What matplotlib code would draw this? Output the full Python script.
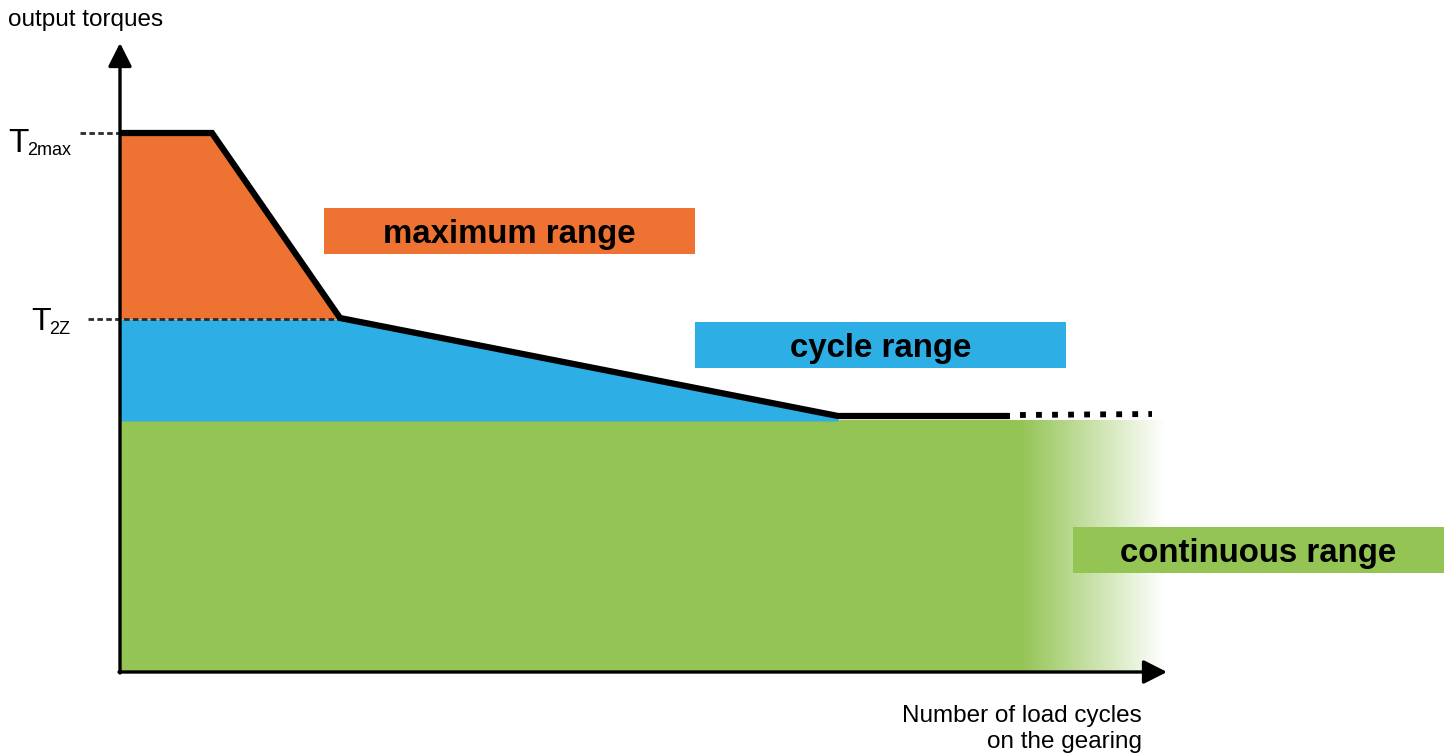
import numpy as np
import matplotlib
matplotlib.use('Agg')
import matplotlib.pyplot as plt
from matplotlib.colors import LinearSegmentedColormap
from matplotlib.patches import Rectangle

plt.rcParams['font.family'] = ['Liberation Sans', 'DejaVu Sans']

# torque curve (x = load cycles, arbitrary units; y = output torque, arbitrary units)
curve_x = [0, 92, 220, 718, 890]
curve_y = [539, 539, 354, 256, 256]
dotted_x = [900, 1032]
dotted_y = [257, 258]

T2max = 539
T2Z = 353
T_cont = 251
x_end = 1045          # end of the green (continuous) region
fade_start = 900      # where the green starts fading out

orange = '#EE7333'
blue = '#2DAEE4'
green = '#93C454'

fig = plt.figure(figsize=(14.54, 7.53), dpi=100)
ax = fig.add_axes([0, 0, 1, 1])
ax.set_xlim(-120, 1334)
ax.set_ylim(-81, 672)
ax.axis('off')

# continuous range (solid part + fade)
ax.fill_between([0, fade_start], 0, T_cont + 1, color=green, lw=0, zorder=1)
fade_cmap = LinearSegmentedColormap.from_list('fade', [green, 'white'])
ax.imshow(np.linspace(0, 1, 256).reshape(1, -1), cmap=fade_cmap, aspect='auto',
          extent=[fade_start, x_end, 0, T_cont + 1], zorder=1, interpolation='bilinear')

# cycle range
cx = np.array(curve_x, dtype=float)
cy = np.array(curve_y, dtype=float)
xb = np.linspace(0, curve_x[3], 400)
yb = np.minimum(np.interp(xb, cx, cy), T2Z)
ax.fill_between(xb, T_cont, yb, color=blue, lw=0, zorder=2)

# maximum range
xo = np.linspace(0, curve_x[2], 200)
yo = np.interp(xo, cx, cy)
ax.fill_between(xo, T2Z, yo, color=orange, lw=0, zorder=2)

# reference lines
ax.plot([-40, 0], [T2max, T2max], ls=(0, (2.0, 1.2)), color='#2b2b2b', lw=2.0, zorder=3)
ax.plot([-32, curve_x[2]], [T2Z, T2Z], ls=(0, (2.0, 1.2)), color='#2b2b2b', lw=2.0, zorder=3)

# curve
ax.plot(curve_x, curve_y, color='black', lw=4.5, solid_joinstyle='miter', solid_capstyle='butt', zorder=4)
ax.plot(dotted_x, dotted_y, color='black', lw=4.2, ls=(0, (1.0, 1.75)), zorder=4)

# axes with arrows
arrow = dict(arrowstyle='-|>,head_length=0.75,head_width=0.38', mutation_scale=19,
             lw=2.4, color='black', shrinkA=0, shrinkB=0)
ax.annotate('', xy=(0, 629), xytext=(0, -1), arrowprops=arrow, zorder=5)
ax.annotate('', xy=(1047, 0), xytext=(-1, 0), arrowprops=arrow, zorder=5)

# axis texts
ax.text(-112, 652, 'output torques', fontsize=17.5, ha='left', va='center')
ax.text(1022, -57, 'Number of load cycles\non the gearing', fontsize=17.5,
        ha='right', va='center', multialignment='right', linespacing=1.22)

ax.text(-112, 520, 'T', fontsize=24, va='baseline')
ax.text(-93, 517, '2max', fontsize=13, va='baseline')
ax.text(-89, 342, 'T', fontsize=23, va='baseline')
ax.text(-71, 338, '2Z', fontsize=13, va='baseline')

# range labels
labels = ['maximum range', 'cycle range', 'continuous range']
box_x = [204, 575, 953]
box_y = [418, 304, 99]
box_colors = [orange, blue, green]
for lab, bx, by, c in zip(labels, box_x, box_y, box_colors):
    ax.add_patch(Rectangle((bx, by), 371, 46, color=c, lw=0, zorder=3))
    ax.text(bx + 185.5, by + 23, lab, fontsize=23.8, fontweight='bold',
            ha='center', va='center_baseline', zorder=4)

fig.savefig('out.png', dpi=100)
